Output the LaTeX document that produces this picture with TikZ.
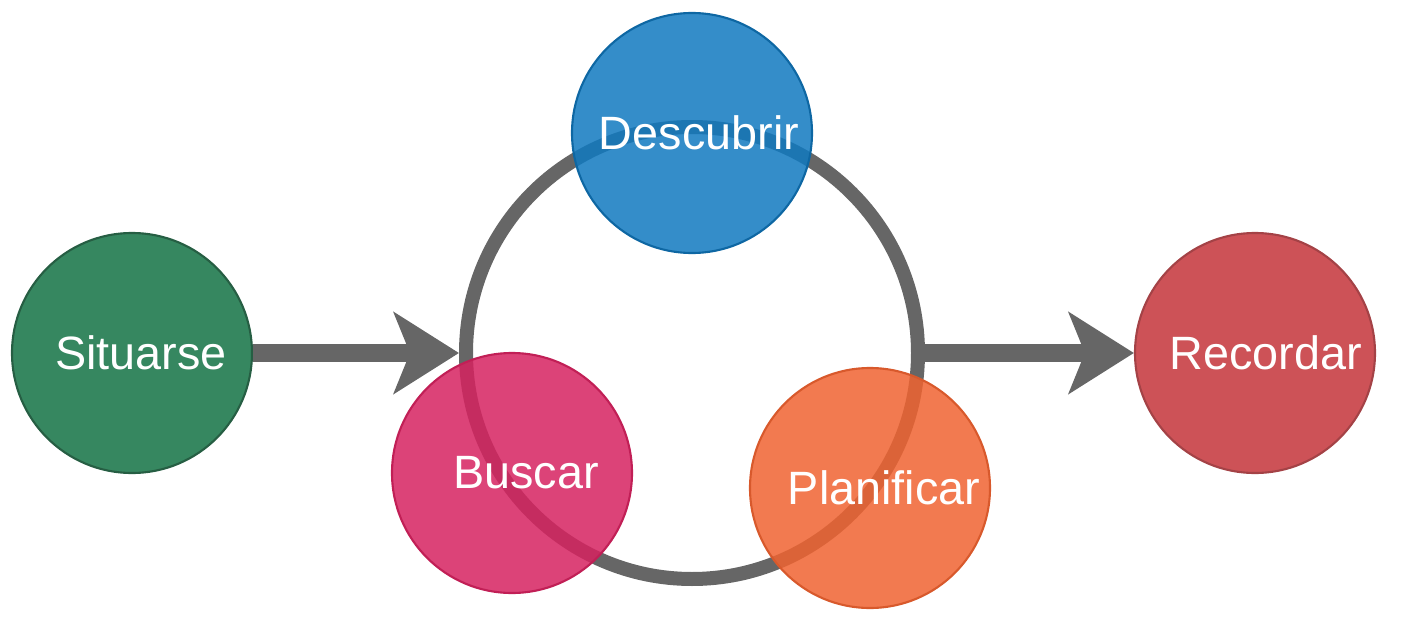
\documentclass[tikz,border=0pt]{standalone}
\usepackage{fontspec}
\setmainfont{Liberation Sans}
\usetikzlibrary{arrows.meta}

\definecolor{StGreen}{HTML}{368760}
\definecolor{StBlue}{HTML}{1079C0}
\definecolor{StPink}{HTML}{D62260}
\definecolor{StOrange}{HTML}{F06331}
\definecolor{StRed}{HTML}{CD5257}
\definecolor{StGray}{HTML}{666666}

\begin{document}
\begin{tikzpicture}[
    x=1cm,
    y=1cm,
    font=\fontsize{13.3}{16}\selectfont,
    phase/.style={circle, minimum size=2.40cm, inner sep=0pt,
                  line width=0.6pt},
    inner phase/.style={phase, fill opacity=0.85},
    phasetext/.style={text=white, inner sep=0pt},
    flow/.style={draw=StGray, line width=0.18cm,
                 -{Stealth[length=6.5mm, width=8.1mm, inset=1.6mm]}}
]
\useasboundingbox (0,0) rectangle (14.08,6.43);

% The cycle sits behind the three inner phases.
\node[circle, draw=StGray, line width=0.14cm, minimum size=4.52cm,
      inner sep=0pt] (ring) at (6.92,2.90) {};

\node[phase, fill=StGreen, draw=StGreen!70!black] (situarse) at (1.32,2.90) {};
\node[phase, fill=StRed, draw=StRed!80!black] (recordar) at (12.55,2.90) {};

\draw[flow] (situarse.east) -- (ring.west);
\draw[flow] (ring.east) -- (recordar.west);

% Inner phases overlap the ring, so they are slightly transparent.
\node[inner phase, fill=StBlue, draw=StBlue!85!black] (descubrir) at (6.92,5.10) {};
\node[inner phase, fill=StPink, draw=StPink!90!black] (buscar) at (5.12,1.70) {};
\node[inner phase, fill=StOrange, draw=StOrange!90!black] (planificar) at (8.70,1.55) {};

\node[phasetext] (situarse-txt) at ([xshift=0.09cm]situarse.center) {Situarse};
\node[phasetext] (descubrir-txt) at ([xshift=0.07cm]descubrir.center) {Descubrir};
\node[phasetext] (buscar-txt) at ([xshift=0.14cm]buscar.center) {Buscar};
\node[phasetext] (planificar-txt) at ([xshift=0.14cm]planificar.center) {Planificar};
\node[phasetext] (recordar-txt) at ([xshift=0.11cm]recordar.center) {Recordar};
\end{tikzpicture}
\end{document}
